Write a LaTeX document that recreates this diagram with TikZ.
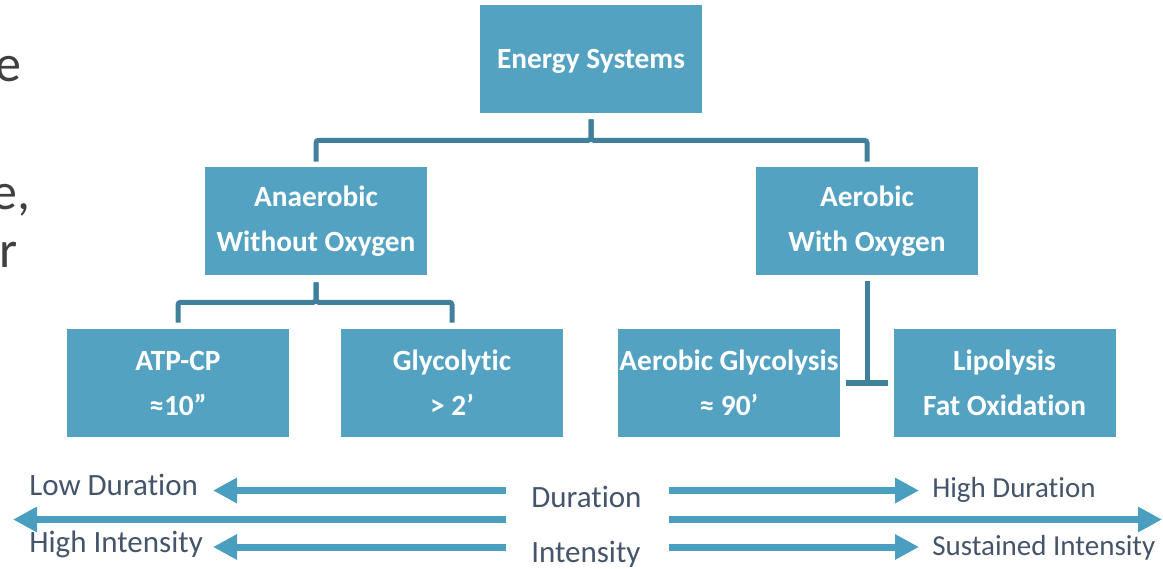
\documentclass[tikz,border=0pt]{standalone}
\usepackage{fontspec}
\setmainfont{Carlito}[Ligatures=CommonOff]
\usetikzlibrary{arrows.meta,calc}
\definecolor{boxc}{HTML}{53A2C2}
\definecolor{connc}{HTML}{41809C}
\definecolor{arrc}{HTML}{4A9FC0}
\definecolor{txtc}{HTML}{44546A}
\definecolor{slidec}{HTML}{404040}
\begin{document}
\begin{tikzpicture}[x=0.75pt,y=-0.75pt,
 sysbox/.style={rectangle, fill=boxc, minimum width=166.5pt, minimum height=81pt, inner sep=0pt, text=white, align=center, font=\fontsize{22pt}{33.75pt}\selectfont\bfseries},
 conn/.style={draw=connc, line width=3.75pt, rounded corners=2pt},
 scalearrow/.style={draw=arrc, line width=5.25pt, -{Triangle[length=18pt,width=18pt]}},
 scaletxt/.style={text=txtc, font=\fontsize{23.25pt}{28pt}\selectfont, inner sep=0pt, anchor=base west},
 scaletxtr/.style={scaletxt, font=\fontsize{21.75pt}{26pt}\selectfont},
 slidetxt/.style={text=slidec, font=\fontsize{39pt}{47pt}\selectfont, inner sep=0pt, anchor=base east}]
\useasboundingbox (0,0) rectangle (1163,568);
\clip (0,0) rectangle (1163,568);

% cut-off slide text at the left edge
\node[slidetxt] (f1) at (22,81) {e};
\node[slidetxt] (f2) at (31,209) {e,};
\node[slidetxt] (f3) at (18,267) {r};

% boxes
\node[sysbox, text depth=0pt] (E) at (591,59) {Energy Systems};
\node[sysbox] (AN) at (316,221) {Anaerobic\\Without Oxygen};
\node[sysbox] (AE) at (867,221) {Aerobic\\With Oxygen};
\node[sysbox] (ATP) at (178,383) {ATP-CP\\≈10”};
\node[sysbox] (GL) at (452,383) {Glycolytic\\> 2’};
\node[sysbox] (AG) at (729,383) {Aerobic Glycolysis\\≈ 90’};
\node[sysbox] (LP) at (1004.5,383) {Lipolysis\\Fat Oxidation};

% connectors
\draw[conn] ([yshift=-4.5pt]E.south) -- ++(0,21) -| ([yshift=3.75pt]AN.north);
\draw[conn] ([yshift=-4.5pt]E.south) -- ++(0,21) -| ([yshift=3.75pt]AE.north);
\draw[conn] ([yshift=-5.25pt]AN.south) -- ++(0,20) -| ([yshift=4.5pt]ATP.north);
\draw[conn] ([yshift=-5.25pt]AN.south) -- ++(0,20) -| ([yshift=4.5pt]GL.north);
\coordinate (T) at (AE.south |- AG.east);
\draw[conn] ([yshift=-4.5pt]AE.south) -- (T);
\draw[conn, line width=4.5pt] ([xshift=-15.75pt]T) -- ([xshift=15.75pt]T);

% scale texts
\node[scaletxt] (dur) at (531,507) {Duration};
\node[scaletxt] (int) at (531,562) {Intensity};
\node[scaletxt] (lowd) at (29,495) {Low Duration};
\node[scaletxt] (highi) at (29,552) {High Intensity};
\node[scaletxtr] (highd) at (932,497) {High Duration};
\node[scaletxtr] (susi) at (932,555) {Sustained Intensity};

% scale arrows
\coordinate (l1) at (506,490.5); \coordinate (l1t) at (213,490.5);
\coordinate (l2) at (506,519.5); \coordinate (l2t) at (13,519.5);
\coordinate (l3) at (506,547);   \coordinate (l3t) at (213,547);
\coordinate (r1) at (669,490.5); \coordinate (r1t) at (919,490.5);
\coordinate (r2) at (669,519.5); \coordinate (r2t) at (1162,519.5);
\coordinate (r3) at (669,547);   \coordinate (r3t) at (919,547);
\draw[scalearrow] (l1) -- (l1t);
\draw[scalearrow] (l2) -- (l2t);
\draw[scalearrow] (l3) -- (l3t);
\draw[scalearrow] (r1) -- (r1t);
\draw[scalearrow] (r2) -- (r2t);
\draw[scalearrow] (r3) -- (r3t);
\end{tikzpicture}
\end{document}
